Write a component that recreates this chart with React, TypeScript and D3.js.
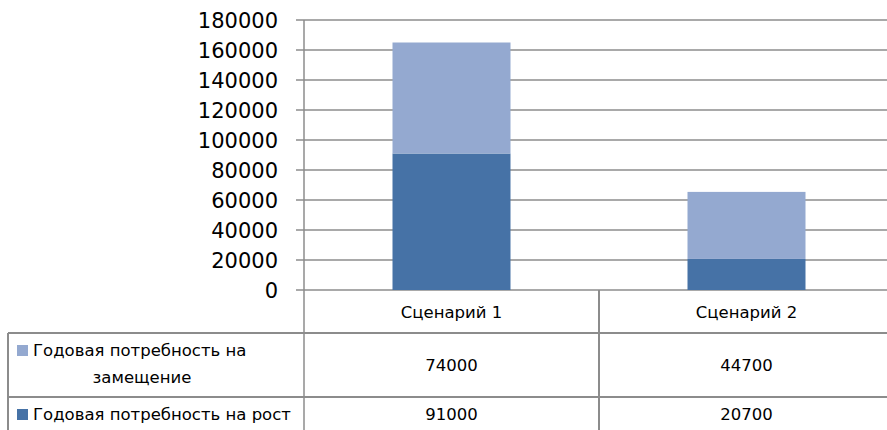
import React from "react";
import * as d3 from "d3";

const categories = ["Сценарий 1", "Сценарий 2"];
const seriesNames = ["Годовая потребность на замещение", "Годовая потребность на рост"];
const growth = [91000, 20700];
const replacement = [74000, 44700];
const yTicks = [0, 20000, 40000, 60000, 80000, 100000, 120000, 140000, 160000, 180000];

const W = 887;
const H = 430;
const FONT = "'DejaVu Sans', sans-serif";
const DARK = "#4672a6";
const LIGHT = "#94a9d0";
const LINE = "#8c8c8c";
const TABLE_FS = 16.5;

export default function App() {
  const axisX = 304;
  const top = 20;
  const base = 290;
  const tableTop = 333;
  const rowSplit = 397;
  const left = 8;

  const y = d3.scaleLinear().domain([0, 180000]).range([base, top]);
  const x = d3
    .scaleBand<string>()
    .domain(categories)
    .range([axisX, axisX + 590])
    .paddingInner(0.6)
    .paddingOuter(0.3);
  const col = d3.scaleBand<string>().domain(categories).range([axisX, axisX + 590]);

  const rows = categories.map((c, i) => ({ c, g: growth[i], r: replacement[i] }));
  const stack = d3.stack<any>().keys(["g", "r"])(rows);
  const colors = [DARK, LIGHT];

  return (
    <svg
      width={W}
      height={H}
      style={{ position: "absolute", left: 0, top: 0, background: "#fff" }}
      fontFamily={FONT}
    >
      {/* gridlines and value axis labels */}
      {yTicks.map((t) => (
        <g key={t}>
          <line x1={axisX - 8} x2={W} y1={y(t)} y2={y(t)} stroke={LINE} strokeWidth={1.5} />
          <text x={278} y={y(t)} dy="0.36em" textAnchor="end" fontSize={21} fill="#000">
            {t}
          </text>
        </g>
      ))}

      {/* stacked columns */}
      {stack.map((s, si) =>
        s.map((d, i) => (
          <rect
            key={`${si}-${i}`}
            x={x(categories[i])}
            width={x.bandwidth()}
            y={y(d[1])}
            height={y(d[0]) - y(d[1])}
            fill={colors[si]}
          />
        ))
      )}

      {/* axis line continuing into the data table */}
      <line x1={axisX} x2={axisX} y1={top} y2={H} stroke={LINE} strokeWidth={1.5} />

      {/* data table grid */}
      <line x1={col(categories[1])} x2={col(categories[1])} y1={base} y2={H} stroke={LINE} strokeWidth={2} />
      <line x1={left} x2={W} y1={tableTop} y2={tableTop} stroke={LINE} strokeWidth={2} />
      <line x1={left} x2={W} y1={rowSplit} y2={rowSplit} stroke={LINE} strokeWidth={2} />
      <line x1={left} x2={left} y1={tableTop} y2={H} stroke={LINE} strokeWidth={2} />

      {/* category header row */}
      {categories.map((c) => (
        <text
          key={c}
          x={(col(c) as number) + col.bandwidth() / 2}
          y={312}
          dy="0.35em"
          textAnchor="middle"
          fontSize={TABLE_FS}
          fill="#000"
        >
          {c}
        </text>
      ))}

      {/* legend keys */}
      <rect x={17} y={345} width={11} height={11} fill={LIGHT} />
      <text x={33} y={356} fontSize={TABLE_FS} fill="#000">
        Годовая потребность на
      </text>
      <text x={142} y={383} textAnchor="middle" fontSize={TABLE_FS} fill="#000">
        замещение
      </text>
      <rect x={17} y={409} width={11} height={11} fill={DARK} />
      <text x={33} y={420} fontSize={TABLE_FS} fill="#000">
        {seriesNames[1]}
      </text>

      {/* values */}
      {categories.map((c, i) => (
        <g key={c}>
          <text
            x={(col(c) as number) + col.bandwidth() / 2}
            y={371}
            textAnchor="middle"
            fontSize={TABLE_FS}
            fill="#000"
          >
            {replacement[i]}
          </text>
          <text
            x={(col(c) as number) + col.bandwidth() / 2}
            y={420}
            textAnchor="middle"
            fontSize={TABLE_FS}
            fill="#000"
          >
            {growth[i]}
          </text>
        </g>
      ))}
    </svg>
  );
}
